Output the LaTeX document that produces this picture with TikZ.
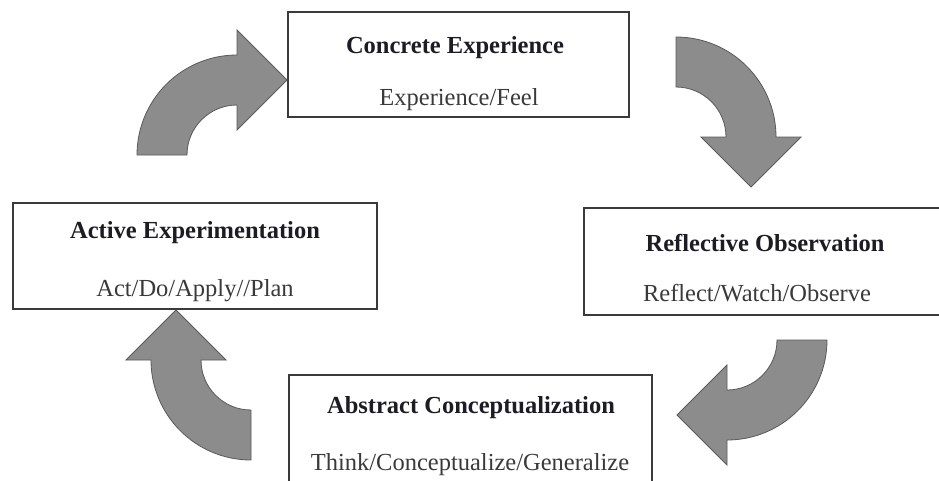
\documentclass[tikz,border=0pt]{standalone}
\usepackage{fontspec}
\setmainfont{Liberation Serif}
\definecolor{arrowfill}{HTML}{8C8C8C}
\definecolor{arrowline}{HTML}{5A5A5A}
\definecolor{boxline}{HTML}{3A3A3A}
\definecolor{titlecol}{HTML}{1C1C24}
\definecolor{subcol}{HTML}{3A3A3A}
\begin{document}
\begin{tikzpicture}[x=1pt,y=-1pt,
  stagebox/.style={draw=boxline, line width=1.8pt, fill=white, inner sep=0pt},
  titletext/.style={anchor=base, font=\fontsize{24.5}{28}\selectfont\bfseries, text=titlecol, inner sep=0pt},
  subtext/.style={anchor=base, font=\fontsize{24.5}{28}\selectfont, text=subcol, inner sep=0pt},
  blockarrow/.style={fill=arrowfill, draw=arrowline, line width=0.8pt, line join=miter}]
\useasboundingbox (0,0) rectangle (939,480);
\fill[white] (0,0) rectangle (939,480);

% boxes
\node[stagebox, minimum width=341pt, minimum height=105pt] (ce) at (458.5,64.5) {};
\node[stagebox, minimum width=358pt, minimum height=107pt] (ro) at (763,261.5) {};
\node[stagebox, minimum width=363pt, minimum height=110pt] (ac) at (470.5,430) {};
\node[stagebox, minimum width=364pt, minimum height=106pt] (ae) at (195,256) {};

% texts
\node[titletext] (ceT) at (455,53) {Concrete Experience};
\node[subtext]   (ceS) at (459,105) {Experience/Feel};
\node[titletext] (roT) at (765,251) {Reflective Observation};
\node[subtext]   (roS) at (757,301) {Reflect/Watch/Observe};
\node[titletext] (acT) at (471,413) {Abstract Conceptualization};
\node[subtext]   (acS) at (470,470) {Think/Conceptualize/Generalize};
\node[titletext] (aeT) at (195,238) {Active Experimentation};
\node[subtext]   (aeS) at (195,296) {Act/Do/Apply//Plan};

% curved block arrows
% top-left (towards Concrete Experience)
\draw[blockarrow] (137,155) arc[start angle=180, end angle=270, radius=100]
  -- (237,30) -- (287,80) -- (237,130) -- (237,105)
  arc[start angle=270, end angle=180, radius=50] -- cycle;
% top-right (towards Reflective Observation)
\draw[blockarrow] (676,37) arc[start angle=-90, end angle=0, radius=100]
  -- (801,137) -- (751,187) -- (701,137) -- (726,137)
  arc[start angle=0, end angle=-90, radius=50] -- cycle;
% bottom-right (towards Abstract Conceptualization)
\draw[blockarrow] (827,340) arc[start angle=0, end angle=90, radius=100]
  -- (727,465) -- (677,415) -- (727,365) -- (727,390)
  arc[start angle=90, end angle=0, radius=50] -- cycle;
% bottom-left (towards Active Experimentation)
\draw[blockarrow] (251,460) arc[start angle=90, end angle=180, radius=100]
  -- (126,360) -- (176,310) -- (226,360) -- (201,360)
  arc[start angle=180, end angle=90, radius=50] -- cycle;
\end{tikzpicture}
\end{document}
